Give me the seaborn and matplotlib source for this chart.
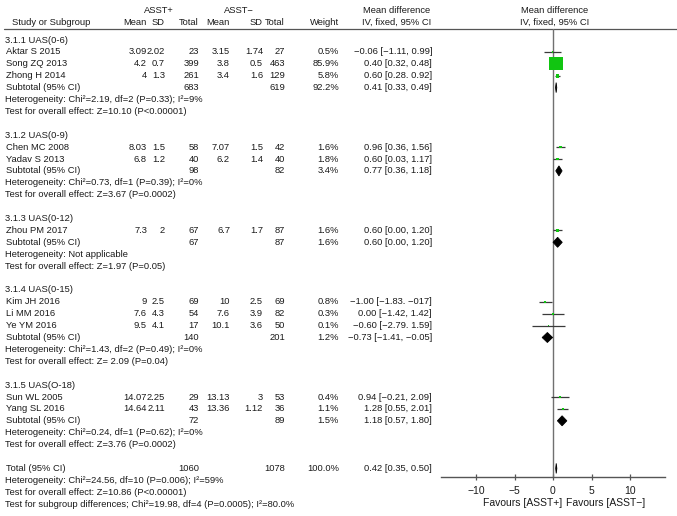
import numpy as np
import pandas as pd
import matplotlib
matplotlib.use("Agg")
import matplotlib.pyplot as plt
import seaborn as sns

# ---------------- data ----------------
groups = ["3.1.1 UAS(0-6)", "3.1.2 UAS(0-9)", "3.1.3 UAS(0-12)",
          "3.1.4 UAS(0-15)", "3.1.5 UAS(O-18)"]
study_names = ["Aktar S 2015", "Song ZQ 2013", "Zhong H 2014",
               "Chen MC 2008", "Yadav S 2013",
               "Zhou PM 2017",
               "Kim JH 2016", "Li MM 2016", "Ye YM 2016",
               "Sun WL 2005", "Yang SL 2016"]
study_group = [0, 0, 0, 1, 1, 2, 3, 3, 3, 4, 4]
pos_mean = [3.09, 4.2, 4, 8.03, 6.8, 7.3, 9, 7.6, 9.5, 14.07, 14.64]
pos_sd = [2.02, 0.7, 1.3, 1.5, 1.2, 2, 2.5, 4.3, 4.1, 2.25, 2.11]
pos_n = [23, 399, 261, 58, 40, 67, 69, 54, 17, 29, 43]
neg_mean = [3.15, 3.8, 3.4, 7.07, 6.2, 6.7, 10, 7.6, 10.1, 13.13, 13.36]
neg_sd = [1.74, 0.5, 1.6, 1.5, 1.4, 1.7, 2.5, 3.9, 3.6, 3, 1.12]
neg_n = [27, 463, 129, 42, 40, 87, 69, 82, 50, 53, 36]
weight = [0.5, 85.9, 5.8, 1.6, 1.8, 1.6, 0.8, 0.3, 0.1, 0.4, 1.1]
md = [-0.06, 0.40, 0.60, 0.96, 0.60, 0.60, -1.00, 0.00, -0.60, 0.94, 1.28]
md_lo = [-1.11, 0.32, 0.28, 0.36, 0.03, 0.00, -1.83, -1.42, -2.79, -0.21, 0.55]
md_hi = [0.99, 0.48, 0.92, 1.56, 1.17, 1.20, -0.17, 1.42, 1.59, 2.09, 2.01]
md_text = ["\u22120.06 [\u22121.11, 0.99]", "0.40 [0.32, 0.48]", "0.60 [0.28. 0.92]",
           "0.96 [0.36, 1.56]", "0.60 [0.03, 1.17]",
           "0.60 [0.00, 1.20]",
           "\u22121.00 [\u22121.83. \u2212017]", "0.00 [\u22121.42, 1.42]",
           "\u22120.60 [\u22122.79. 1.59]",
           "0.94 [\u22120.21, 2.09]", "1.28 [0.55, 2.01]"]

sub_pos_n = [683, 98, 67, 140, 72]
sub_neg_n = [619, 82, 87, 201, 89]
sub_weight = [92.2, 3.4, 1.6, 1.2, 1.5]
sub_md = [0.41, 0.77, 0.60, -0.73, 1.18]
sub_lo = [0.33, 0.36, 0.00, -1.41, 0.57]
sub_hi = [0.49, 1.18, 1.20, -0.05, 1.80]
sub_text = ["0.41 [0.33, 0.49]", "0.77 [0.36, 1.18]", "0.60 [0.00, 1.20]",
            "\u22120.73 [\u22121.41, \u22120.05]", "1.18 [0.57, 1.80]"]
sub_het = ["Heterogeneity: Chi\u00b2=2.19, df=2 (P=0.33); I\u00b2=9%",
           "Heterogeneity: Chi\u00b2=0.73, df=1 (P=0.39); I\u00b2=0%",
           "Heterogeneity: Not applicable",
           "Heterogeneity: Chi\u00b2=1.43, df=2 (P=0.49); I\u00b2=0%",
           "Heterogeneity: Chi\u00b2=0.24, df=1 (P=0.62); I\u00b2=0%"]
sub_test = ["Test for overall effect: Z=10.10 (P<0.00001)",
            "Test for overall effect: Z=3.67 (P=0.0002)",
            "Test for overall effect: Z=1.97 (P=0.05)",
            "Test for overall effect: Z= 2.09 (P=0.04)",
            "Test for overall effect: Z=3.76 (P=0.0002)"]

total_pos_n, total_neg_n, total_weight = 1060, 1078, 100.0
total_md, total_lo, total_hi = 0.42, 0.35, 0.50
total_text = "0.42 [0.35, 0.50]"
total_lines = ["Heterogeneity: Chi\u00b2=24.56, df=10 (P=0.006); I\u00b2=59%",
               "Test for overall effect: Z=10.86 (P<0.00001)",
               "Test for subgroup differences; Chi\u00b2=19.98, df=4 (P=0.0005); I\u00b2=80.0%"]
x_ticks = [-10, -5, 0, 5, 10]
favours = ["Favours [ASST+]", "Favours [ASST\u2212]"]

# ---------------- layout ----------------
sns.set_theme(style="white")
plt.rcParams["font.family"] = ["Liberation Sans", "DejaVu Sans"]
FS = 6.75
TC = "#1a1a1a"

W, H = 677, 516
fig = plt.figure(figsize=(W / 100, H / 100), dpi=100)

ROW0, ROWH = 40.0, 11.9   # pixel y of row 0 and row spacing

# full-figure text axes: x in pixels, y in row units
ax0 = fig.add_axes([0, 0, 1, 1])
ax0.set_xlim(0, W)
ax0.set_ylim((H - ROW0) / ROWH, -ROW0 / ROWH)
ax0.axis("off")

# forest axes
zero_px, unit_px = 553.0, 7.7
xlim = (-14.5, 14.5)
ax_left = zero_px + xlim[0] * unit_px
ax_right = zero_px + xlim[1] * unit_px
top_px, bot_px = 29.0, 477.0
ax = fig.add_axes([ax_left / W, 1 - bot_px / H, (ax_right - ax_left) / W, (bot_px - top_px) / H])
ax.set_xlim(*xlim)
ax.set_ylim((bot_px - ROW0) / ROWH, (top_px - ROW0) / ROWH)
ax.patch.set_alpha(0)

cols = dict(pm=147, psd=165, pn=199, nm=230, nsd=263, nn=285, w=339, md=432)


def txt(x, r, s, ha="left", **kw):
    ax0.text(x, r, s, ha=ha, va="center", fontsize=kw.pop("fontsize", FS), color=TC, **kw)


# headers
hr1, hr2 = -2.5, -1.45
txt(159, hr1, "ASST+", ha="center")
txt(239, hr1, "ASST\u2212", ha="center")
txt(397, hr1, "Mean difference", ha="center")
txt(397, hr2, "IV, fixed, 95% CI", ha="center")
txt(555, hr1, "Mean difference", ha="center")
txt(555, hr2, "IV, fixed, 95% CI", ha="center")
txt(12, hr2, "Study or Subgroup")
for key, lab in [("pm", "Mean"), ("psd", "SD"), ("pn", "Total"), ("nm", "Mean"),
                 ("nsd", "SD"), ("nn", "Total"), ("w", "Weight")]:
    txt(cols[key], hr2, lab, ha="right")
ax0.plot([4, W], [(top_px - ROW0) / ROWH] * 2, color="#555555", lw=0.9)

# rows
study_rows = []
sub_rows = []
r = 0
for g, gname in enumerate(groups):
    txt(5, r, gname)
    r += 1
    for i in [k for k, sg in enumerate(study_group) if sg == g]:
        study_rows.append(r)
        txt(6, r, study_names[i])
        txt(cols["pm"], r, f"{pos_mean[i]:g}", ha="right")
        txt(cols["psd"], r, f"{pos_sd[i]:g}", ha="right")
        txt(cols["pn"], r, f"{pos_n[i]}", ha="right")
        txt(cols["nm"], r, f"{neg_mean[i]:g}", ha="right")
        txt(cols["nsd"], r, f"{neg_sd[i]:g}", ha="right")
        txt(cols["nn"], r, f"{neg_n[i]}", ha="right")
        txt(cols["w"], r, f"{weight[i]:.1f}%", ha="right")
        txt(cols["md"], r, md_text[i], ha="right")
        r += 1
    sub_rows.append(r)
    txt(6, r, "Subtotal (95% CI)")
    txt(cols["pn"], r, f"{sub_pos_n[g]}", ha="right")
    txt(cols["nn"], r, f"{sub_neg_n[g]}", ha="right")
    txt(cols["w"], r, f"{sub_weight[g]:.1f}%", ha="right")
    txt(cols["md"], r, sub_text[g], ha="right")
    r += 1
    txt(5, r, sub_het[g])
    r += 1
    txt(5, r, sub_test[g])
    r += 2

total_row = r
txt(6, total_row, "Total (95% CI)")
txt(cols["pn"], total_row, f"{total_pos_n}", ha="right")
txt(cols["nn"], total_row, f"{total_neg_n}", ha="right")
txt(cols["w"], total_row, f"{total_weight:.1f}%", ha="right")
txt(cols["md"], total_row, total_text, ha="right")
for k, line in enumerate(total_lines):
    txt(5, total_row + 1 + k, line)

# ---------------- forest marks ----------------
df = pd.DataFrame({"md": md, "lo": md_lo, "hi": md_hi, "w": weight, "row": study_rows})
ax.axvline(0, color="#707070", lw=1.0, zorder=1)
ax.hlines(df["row"], df["lo"], df["hi"], color="#3a3a3a", lw=0.9, zorder=2)
sns.scatterplot(data=df, x="md", y="row", size="w", sizes=(1.2, 90), size_norm=(0, 85.9),
                marker="s", color="#11c511", edgecolor="none", linewidth=0,
                legend=False, ax=ax, zorder=3, clip_on=False)

half_h = 0.42
dia_md = sub_md + [total_md]
dia_lo = sub_lo + [total_lo]
dia_hi = sub_hi + [total_hi]
dia_row = sub_rows + [total_row]
for m, lo, hi, rr in zip(dia_md, dia_lo, dia_hi, dia_row):
    ax.fill([lo, m, hi, m], [rr, rr - half_h, rr, rr + half_h],
            color="black", lw=0.6, edgecolor="black", zorder=4, clip_on=False)

ax.set_xticks(x_ticks)
ax.set_yticks([])
ax.set_xlabel("")
ax.set_ylabel("")
for s in ["top", "left", "right"]:
    ax.spines[s].set_visible(False)
ax.spines["bottom"].set_color("#555555")
ax.spines["bottom"].set_linewidth(1.0)
ax.tick_params(axis="x", direction="inout", length=5, width=0.9, color="#555555",
               labelsize=7.5, labelcolor=TC, pad=4, bottom=True)

# favours labels
fav_r = (503 - ROW0) / ROWH
txt(562, fav_r, favours[0], ha="right", fontsize=7.5)
txt(566, fav_r, favours[1], ha="left", fontsize=7.5)

fig.savefig("out.png", dpi=100)
